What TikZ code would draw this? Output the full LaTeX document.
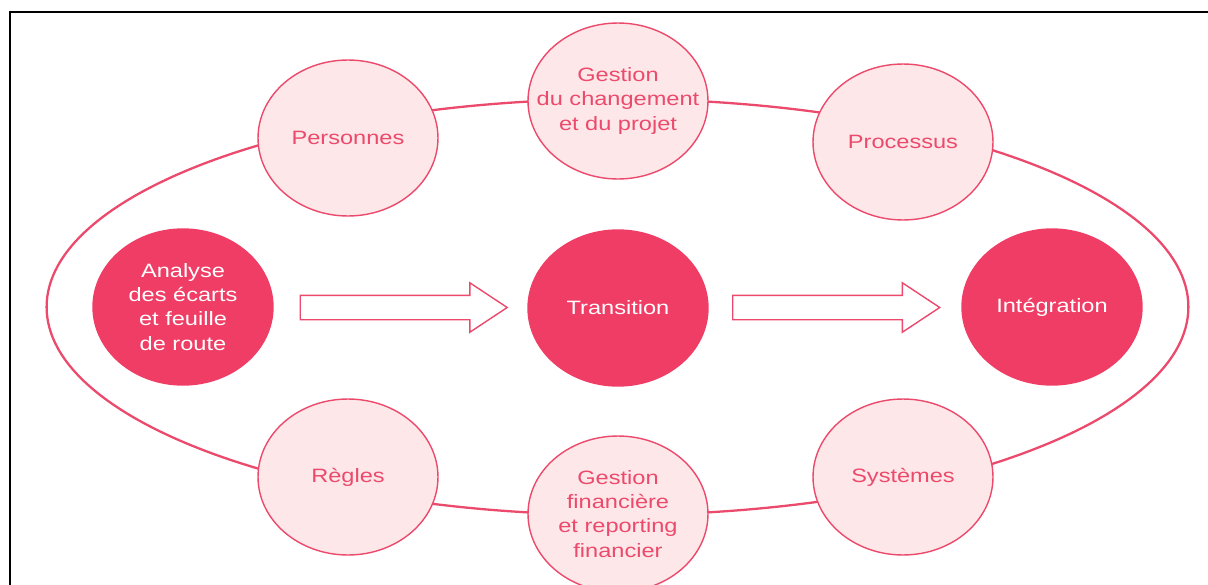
\documentclass[tikz,border=0pt]{standalone}
\usepackage{fontspec}
\setmainfont[FakeStretch=1.22]{Liberation Sans}
\usepackage{tikz}
\usetikzlibrary{calc,shapes.geometric,shapes.arrows}
\pgfdeclarelayer{bg}
\pgfsetlayers{bg,main}
\definecolor{rosefonce}{RGB}{239,61,101}
\definecolor{rosepale}{RGB}{253,231,232}
\definecolor{rosetrait}{RGB}{236,74,108}
\tikzset{
  pale/.style={ellipse, draw=rosetrait, line width=0.8pt, fill=rosepale, text=rosetrait,
    minimum width=3.6cm, minimum height=3.12cm, inner ysep=0pt, inner xsep=-0.45cm, align=center,
    font=\fontsize{11}{13.7}\selectfont},
  fonce/.style={pale, draw=rosefonce, fill=rosefonce, text=white},
  fleche/.style={single arrow, draw=rosetrait, line width=0.8pt, fill=white,
    minimum height=4.14cm, inner sep=0.23cm, single arrow head extend=0.25cm,
    single arrow tip angle=67},
}
\begin{document}
\begin{tikzpicture}[x=0.02cm, y=-0.02cm]
    \useasboundingbox (0,0) rectangle (1208,585);
    \draw [line width=1.3pt] (10,620) -- (10,12) -- (1230,12);

    \node [pale] (pers) at (348,138) {Personnes};
    \node [pale] (gchg) at (618,101) {Gestion\\du changement\\et du projet};
    \node [pale] (proc) at (903,142) {Processus};
    \node [fonce] (ana) at (183,307) {Analyse\\des écarts\\et feuille\\de route};
    \node [fonce] (tra) at (618,308) {Transition};
    \node [fonce] (int) at (1052,307) {Intégration};
    \node [pale] (regl) at (348,477) {Règles};
    \node [pale] (gfin) at (618,514) {Gestion\\financière\\et reporting\\financier};
    \node [pale] (syst) at (903,477) {Systèmes};
    \node [fleche] (f1) at ($(ana)!0.5!(tra)+(-6,0)$) {};
    \node [fleche] (f2) at ($(tra)!0.5!(int)+(-8,0)$) {};
    \begin{pgfonlayer}{bg}    % grand anneau derriere les cercles
        \draw [rosetrait, line width=1.3pt] ($(ana)!0.5!(int)$) ellipse [x radius=11.42cm, y radius=4.16cm];
    \end{pgfonlayer}
  \end{tikzpicture}
\end{document}
